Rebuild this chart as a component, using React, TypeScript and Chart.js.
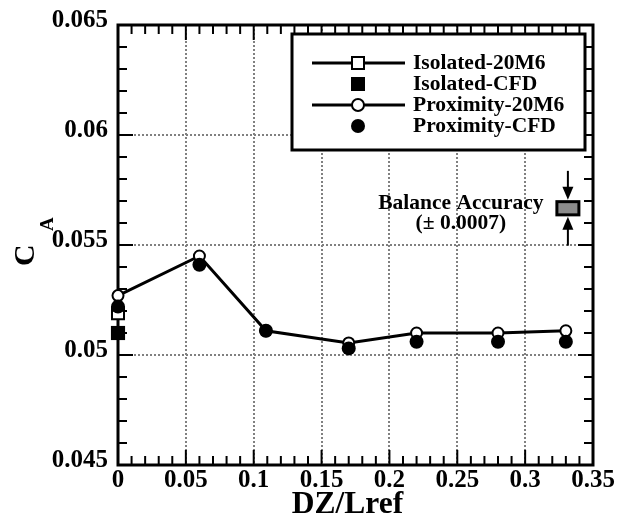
import React, { useEffect, useRef } from 'react';
import { Chart, registerables } from 'chart.js';

Chart.register(...registerables);

// ---- data ----
const dzProximity = [0, 0.06, 0.109, 0.17, 0.22, 0.28, 0.33];
const caProximity20M6 = [0.0527, 0.0545, 0.0511, 0.05055, 0.0510, 0.0510, 0.0511];
const caProximityCFD = [0.0522, 0.0541, 0.0511, 0.0503, 0.0506, 0.0506, 0.0506];
const dzIsolated = [0];
const caIsolated20M6 = [0.0519];
const caIsolatedCFD = [0.0510];

const seriesNames = ['Isolated-20M6', 'Isolated-CFD', 'Proximity-20M6', 'Proximity-CFD'];
const xTickLabels = ['0', '0.05', '0.1', '0.15', '0.2', '0.25', '0.3', '0.35'];
const yTickLabels = ['0.045', '0.05', '0.055', '0.06', '0.065'];
const xTitle = 'DZ/Lref';
const yTitleMain = 'C';
const yTitleSub = 'A';

const balanceX = 0.3315;
const balanceY = 0.05667;
const balanceBoxHalf = 0.0003;
const balanceArrowReach = 0.0017;
const balanceLines = ['Balance Accuracy', '(\u00B1 0.0007)'];

const FONT = "'Liberation Serif', 'Times New Roman', serif";

const toPoints = (xs: number[], ys: number[]) => xs.map((x, i) => ({ x, y: ys[i] }));

function drawMarker(ctx: CanvasRenderingContext2D, kind: string, cx: number, cy: number) {
  ctx.save();
  ctx.lineWidth = 2;
  ctx.strokeStyle = '#000';
  if (kind === 'openSquare') {
    ctx.fillStyle = '#fff';
    ctx.fillRect(cx - 6, cy - 6, 12, 12);
    ctx.strokeRect(cx - 6, cy - 6, 12, 12);
  } else if (kind === 'filledSquare') {
    ctx.fillStyle = '#000';
    ctx.fillRect(cx - 7, cy - 7, 14, 14);
  } else if (kind === 'openCircle') {
    ctx.fillStyle = '#fff';
    ctx.beginPath();
    ctx.arc(cx, cy, 6, 0, Math.PI * 2);
    ctx.fill();
    ctx.stroke();
  } else {
    ctx.fillStyle = '#000';
    ctx.beginPath();
    ctx.arc(cx, cy, 7, 0, Math.PI * 2);
    ctx.fill();
  }
  ctx.restore();
}

const decorPlugin = {
  id: 'decor',
  beforeDatasetsDraw(chart: any) {
    const { ctx, chartArea: a, scales } = chart;
    const xs = scales.x;
    const ys = scales.y;
    ctx.save();
    ctx.strokeStyle = '#000';
    ctx.lineWidth = 2;
    ctx.setLineDash([]);
    const seg = (x1: number, y1: number, x2: number, y2: number) => {
      ctx.beginPath();
      ctx.moveTo(x1, y1);
      ctx.lineTo(x2, y2);
      ctx.stroke();
    };
    for (let i = 1; i < 35; i++) {
      const px = xs.getPixelForValue(i / 100);
      const len = i % 5 === 0 ? 15 : 9;
      seg(px, a.bottom, px, a.bottom - len);
      seg(px, a.top, px, a.top + len);
    }
    for (let i = 46; i < 65; i++) {
      const py = ys.getPixelForValue(i / 1000);
      const len = i % 5 === 0 ? 15 : 9;
      seg(a.left, py, a.left + len, py);
      seg(a.right, py, a.right - len, py);
    }
    ctx.lineWidth = 3;
    ctx.strokeRect(a.left, a.top, a.right - a.left, a.bottom - a.top);
    ctx.restore();
  },
  afterDraw(chart: any) {
    const { ctx, chartArea: a, scales } = chart;
    const xs = scales.x;
    const ys = scales.y;
    ctx.save();

    // Legend box
    const lx = a.left + 174;
    const ly = a.top + 9;
    const lw = a.right - 8 - lx;
    const lh = 116;
    ctx.fillStyle = '#fff';
    ctx.fillRect(lx, ly, lw, lh);
    ctx.lineWidth = 3;
    ctx.strokeStyle = '#000';
    ctx.strokeRect(lx, ly, lw, lh);
    const kinds = ['openSquare', 'filledSquare', 'openCircle', 'filledCircle'];
    const withLine = [true, false, true, false];
    ctx.font = `bold 21.5px ${FONT}`;
    ctx.textAlign = 'left';
    ctx.textBaseline = 'alphabetic';
    seriesNames.forEach((name, i) => {
      const cy = ly + 29 + i * 21;
      const mx = lx + 66;
      if (withLine[i]) {
        ctx.lineWidth = 3;
        ctx.strokeStyle = '#000';
        ctx.beginPath();
        ctx.moveTo(lx + 20, cy);
        ctx.lineTo(lx + 113, cy);
        ctx.stroke();
      }
      drawMarker(ctx, kinds[i], mx, cy);
      ctx.fillStyle = '#000';
      ctx.fillText(name, lx + 121, cy + 6);
    });

    // Balance accuracy annotation
    const bx = xs.getPixelForValue(balanceX);
    const byTop = ys.getPixelForValue(balanceY + balanceBoxHalf);
    const byBot = ys.getPixelForValue(balanceY - balanceBoxHalf);
    const aTop = ys.getPixelForValue(balanceY + balanceArrowReach);
    const aBot = ys.getPixelForValue(balanceY - balanceArrowReach);
    ctx.fillStyle = '#8c8c8c';
    ctx.fillRect(bx - 11, byTop, 22, byBot - byTop);
    ctx.lineWidth = 3;
    ctx.strokeStyle = '#000';
    ctx.strokeRect(bx - 11, byTop, 22, byBot - byTop);
    ctx.lineWidth = 2;
    ctx.fillStyle = '#000';
    ctx.beginPath();
    ctx.moveTo(bx, aTop);
    ctx.lineTo(bx, byTop - 12);
    ctx.stroke();
    ctx.beginPath();
    ctx.moveTo(bx - 5.5, byTop - 15);
    ctx.lineTo(bx + 5.5, byTop - 15);
    ctx.lineTo(bx, byTop - 2);
    ctx.closePath();
    ctx.fill();
    ctx.beginPath();
    ctx.moveTo(bx, aBot);
    ctx.lineTo(bx, byBot + 12);
    ctx.stroke();
    ctx.beginPath();
    ctx.moveTo(bx - 5.5, byBot + 15);
    ctx.lineTo(bx + 5.5, byBot + 15);
    ctx.lineTo(bx, byBot + 2);
    ctx.closePath();
    ctx.fill();

    ctx.font = `bold 21.5px ${FONT}`;
    ctx.textAlign = 'center';
    const tcx = bx - 11 - 96;
    const midY = (byTop + byBot) / 2;
    ctx.fillText(balanceLines[0], tcx, midY + 1);
    ctx.fillText(balanceLines[1], tcx, midY + 21);

    // X title
    ctx.font = `bold 31.5px ${FONT}`;
    ctx.textAlign = 'center';
    ctx.fillText(xTitle, (a.left + a.right) / 2 - 8, a.bottom + 48);

    // Y title (rotated, with subscript)
    ctx.translate(34, (a.top + a.bottom) / 2 + 21);
    ctx.rotate(-Math.PI / 2);
    ctx.textAlign = 'left';
    ctx.font = `bold 30px ${FONT}`;
    ctx.fillText(yTitleMain, 0, 0);
    ctx.font = `bold 19px ${FONT}`;
    ctx.fillText(yTitleSub, 35, 19);

    ctx.restore();
  },
};

export default function App() {
  const canvasRef = useRef<HTMLCanvasElement | null>(null);

  useEffect(() => {
    if (!canvasRef.current) return;
    const tickFont = { family: FONT, size: 25, weight: 'bold' as const };
    const chart = new Chart(canvasRef.current, {
      type: 'scatter',
      data: {
        datasets: [
          {
            label: seriesNames[3],
            data: toPoints(dzProximity, caProximityCFD),
            showLine: false,
            clip: false,
            pointStyle: 'circle',
            pointRadius: 7,
            pointBackgroundColor: '#000',
            pointBorderColor: '#000',
            pointBorderWidth: 0,
            order: 0,
          },
          {
            label: seriesNames[1],
            data: toPoints(dzIsolated, caIsolatedCFD),
            showLine: false,
            clip: false,
            pointStyle: 'rect',
            pointRadius: 10,
            pointBackgroundColor: '#000',
            pointBorderColor: '#000',
            pointBorderWidth: 0,
            order: 1,
          },
          {
            label: seriesNames[0],
            data: toPoints(dzIsolated, caIsolated20M6),
            showLine: false,
            clip: false,
            pointStyle: 'rect',
            pointRadius: 8.5,
            pointBackgroundColor: '#fff',
            pointBorderColor: '#000',
            pointBorderWidth: 2,
            order: 2,
          },
          {
            label: seriesNames[2],
            data: toPoints(dzProximity, caProximity20M6),
            showLine: true,
            clip: false,
            borderColor: '#000',
            borderWidth: 3,
            pointStyle: 'circle',
            pointRadius: 5.5,
            pointBackgroundColor: '#fff',
            pointBorderColor: '#000',
            pointBorderWidth: 2,
            order: 3,
          },
        ],
      },
      options: {
        responsive: false,
        animation: false,
        devicePixelRatio: 1,
        layout: { padding: { top: 22, right: 33, left: 0, bottom: 0 } },
        plugins: { legend: { display: false }, tooltip: { enabled: false } },
        scales: {
          x: {
            type: 'linear',
            min: 0,
            max: 0.35,
            afterFit: (s: any) => { s.height = 55; },
            ticks: {
              stepSize: 0.05,
              color: '#000',
              font: tickFont,
              padding: 1,
              maxRotation: 0,
              autoSkip: false,
              callback: (_v: any, i: number) => xTickLabels[i],
            },
            grid: { color: '#808080', lineWidth: 2, drawTicks: false },
            border: { display: false, dash: [2, 2] },
          },
          y: {
            type: 'linear',
            min: 0.045,
            max: 0.065,
            afterFit: (s: any) => { s.width = 118; },
            ticks: {
              stepSize: 0.005,
              color: '#000',
              font: tickFont,
              padding: 10,
              labelOffset: -4,
              autoSkip: false,
              callback: (_v: any, i: number) => yTickLabels[i],
            },
            grid: { color: '#808080', lineWidth: 2, drawTicks: false },
            border: { display: false, dash: [2, 2] },
          },
        },
      },
      plugins: [decorPlugin],
    });
    return () => chart.destroy();
  }, []);

  return (
    <div style={{ position: 'fixed', left: 0, top: 0, width: 626, height: 520, background: '#fff' }}>
      <canvas ref={canvasRef} width={626} height={520} style={{ width: 626, height: 520 }} />
    </div>
  );
}
